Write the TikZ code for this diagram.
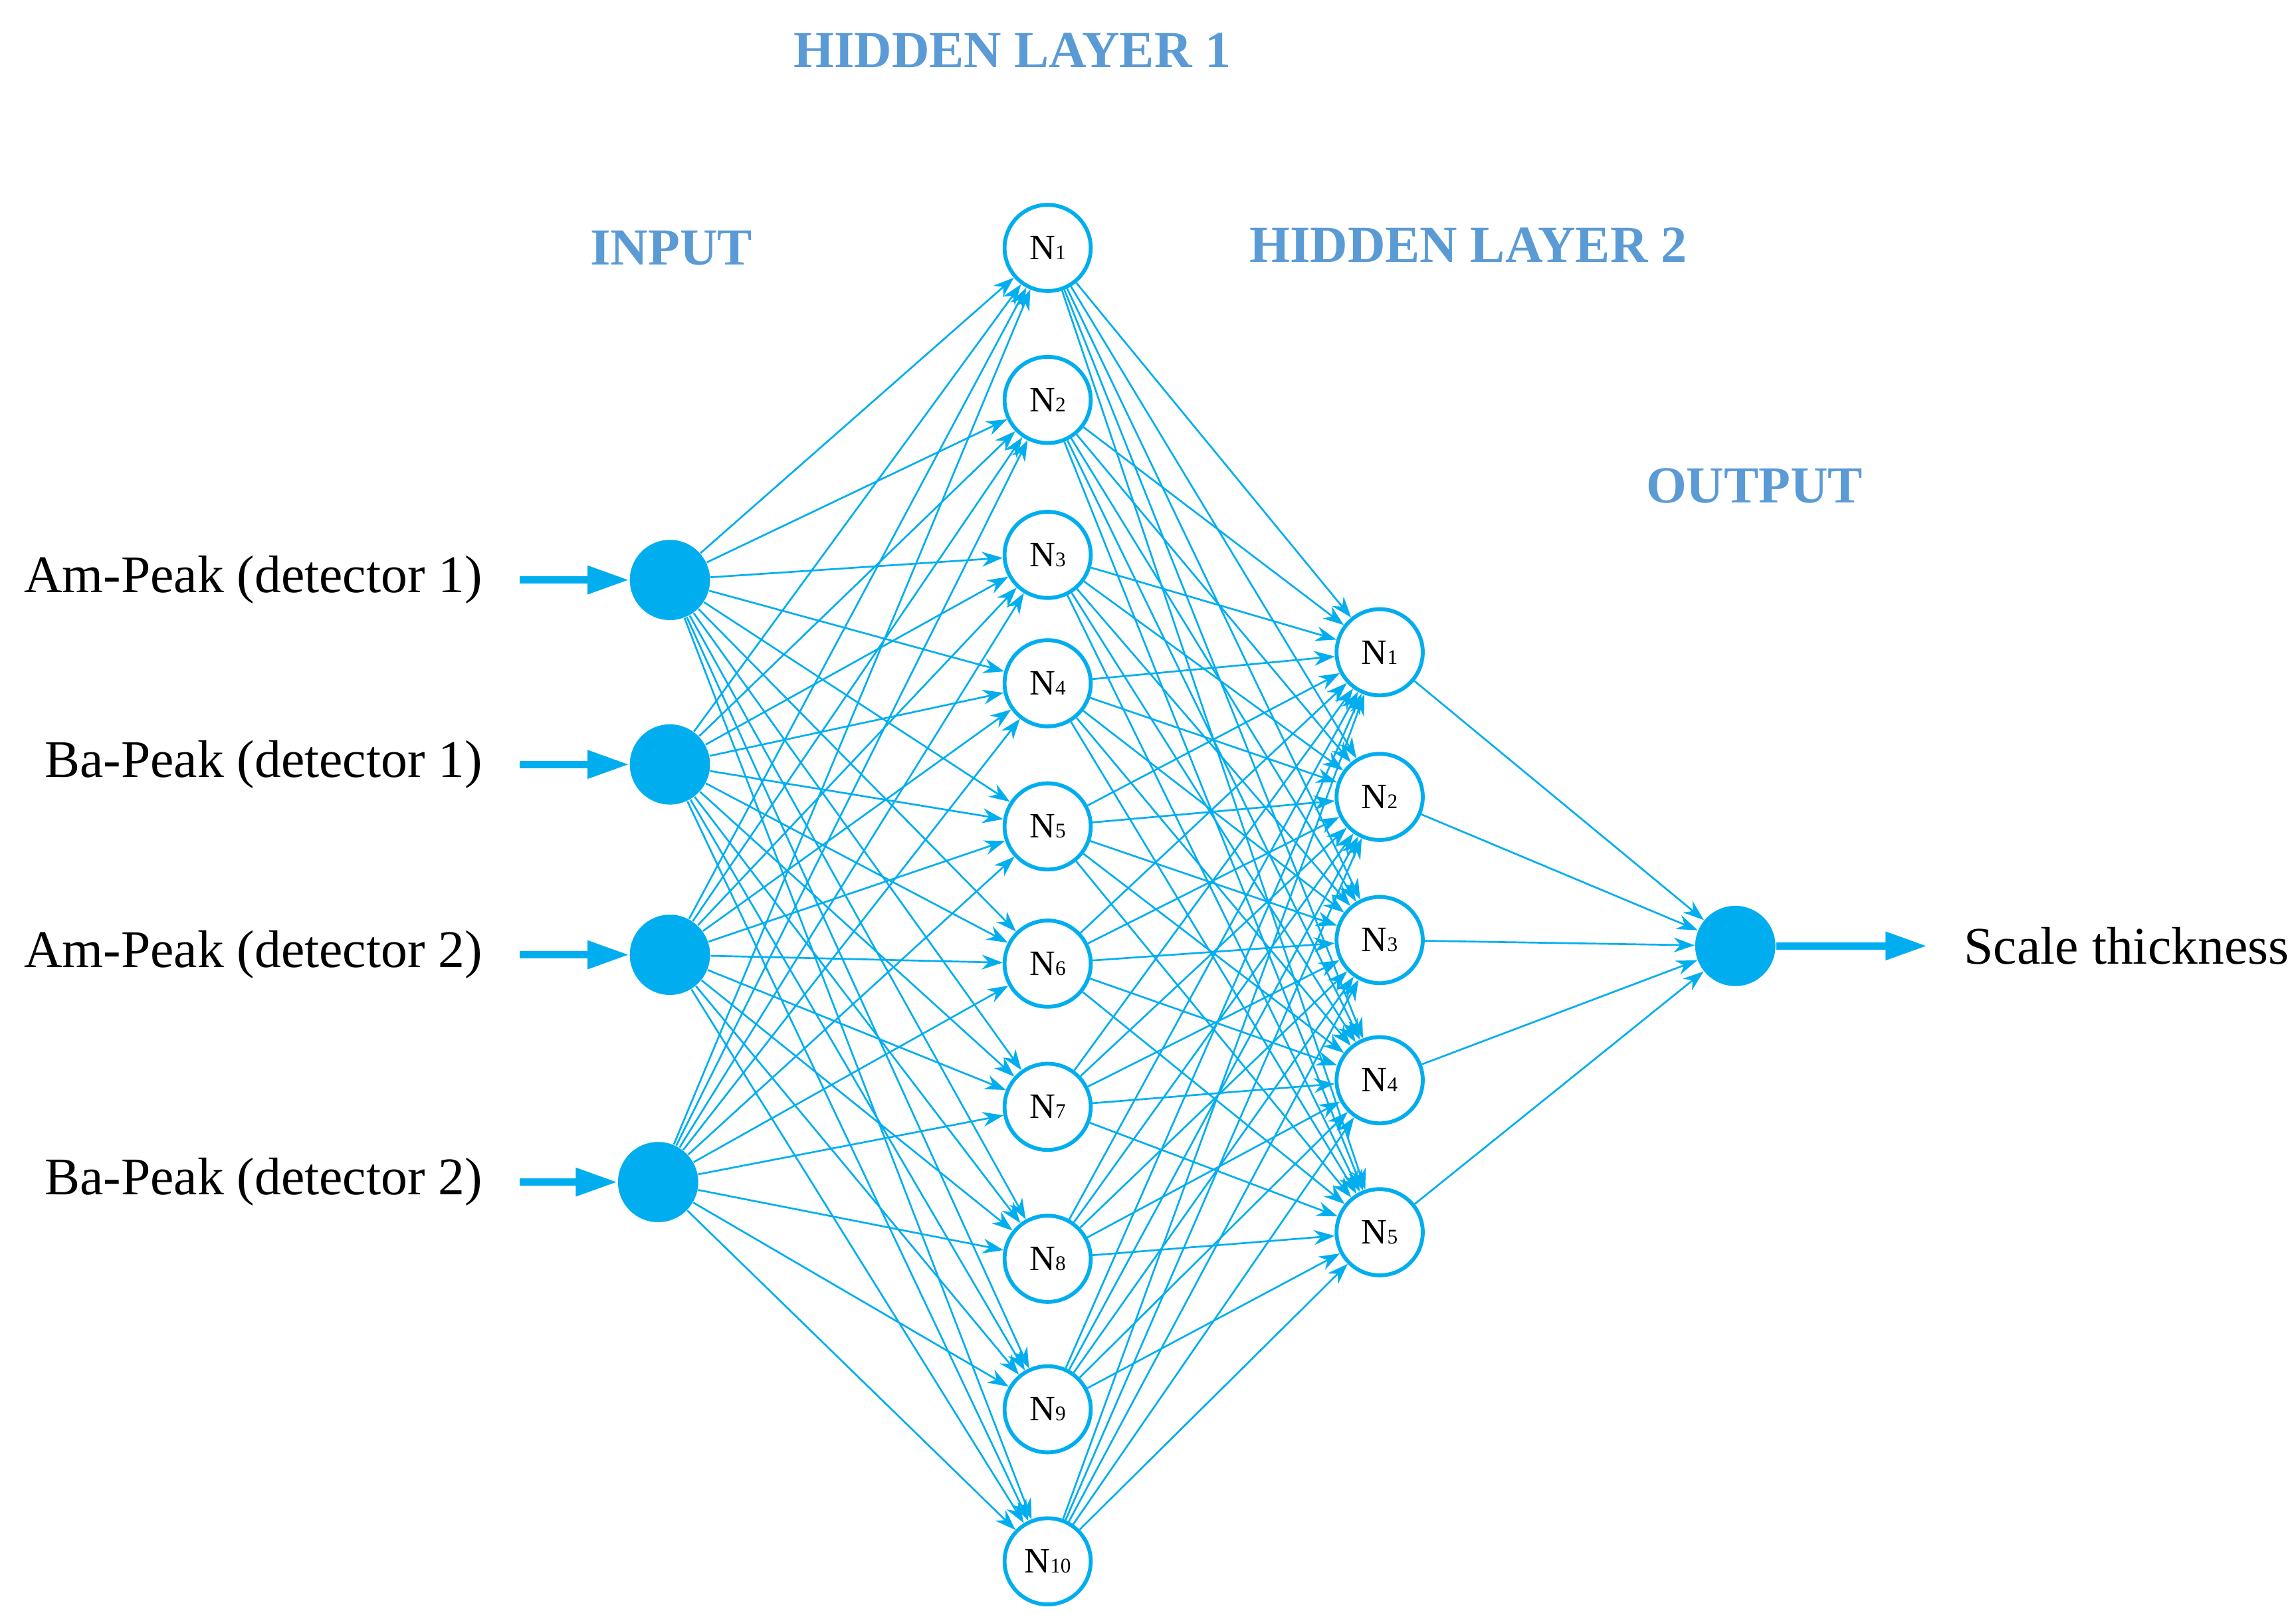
\documentclass[tikz,border=0pt]{standalone}
\usepackage{fontspec}
\setmainfont{Liberation Serif}
\usetikzlibrary{arrows.meta}
\definecolor{ln}{HTML}{00AEEF}
\definecolor{tt}{HTML}{5B9BD5}
\begin{document}
\begin{tikzpicture}[x=0.4965pt,y=-0.4965pt,
  inp/.style={circle,fill=ln,minimum size=27pt,inner sep=0pt},
  hid/.style={circle,draw=ln,line width=1.3pt,fill=white,minimum size=29pt,inner sep=0pt,font=\fontsize{12}{12}\selectfont},
  con/.style={ln,line width=0.6pt,-{Stealth[length=7pt,width=5pt]}},
  big/.style={ln,line width=2.5pt,-{Triangle[length=14pt,width=9pt]}},
  ttl/.style={tt,font=\bfseries\fontsize{17.5}{17.5}\selectfont},
  lab/.style={font=\fontsize{17.8}{17.8}\selectfont}]
\useasboundingbox (0,0) rectangle (1556,1094);
\foreach \i/\x/\y in {1/454/393,2/454/518,3/454/647,4/446/801}
  \node[inp] (i\i) at (\x,\y) {};
\foreach \i/\y in {1/168,2/271,3/376,4/463,5/560,6/653,7/750,8/853,9/955,10/1058}
  \node[hid] (h\i) at (710,\y) {N{\scriptsize\i}};
\foreach \i/\y in {1/442,2/540,3/637,4/732,5/835}
  \node[hid] (g\i) at (935,\y) {N{\scriptsize\i}};
\node[inp] (o) at (1176,641) {};
\foreach \i in {1,...,4} \foreach \j in {1,...,10} \draw[con] (i\i) -- (h\j);
\foreach \j in {1,...,10} \foreach \k in {1,...,5} \draw[con] (h\j) -- (g\k);
\foreach \k in {1,...,5} \draw[con] (g\k) -- (o);
\foreach \i/\y/\t in {1/393/Am-Peak (detector 1),2/518/Ba-Peak (detector 1),3/647/Am-Peak (detector 2),4/801/Ba-Peak (detector 2)}{
  \node[lab,anchor=east] (t\i) at (334,\y) {\t};
  \coordinate (s\i) at ([xshift=9pt]t\i.east);
  \draw[big] (s\i) -- (i\i);
}
\coordinate (oe) at (1306,641);
\draw[big] (o) -- (oe);
\node[lab,anchor=west] (st) at (1324,641) {Scale thickness};
\node[ttl] (a) at (686,34) {HIDDEN LAYER 1};
\node[ttl] (b) at (455,168) {INPUT};
\node[ttl] (c) at (995,166) {HIDDEN LAYER 2};
\node[ttl] (d) at (1189,329) {OUTPUT};
\end{tikzpicture}
\end{document}
